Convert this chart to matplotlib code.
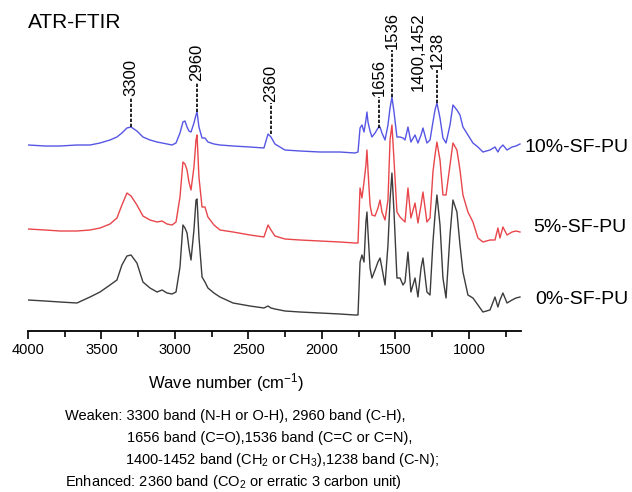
"""ATR-FTIR spectra of SF-PU films (0 %, 5 %, 10 % SF), offset stacked."""

from __future__ import annotations

import matplotlib

matplotlib.use("Agg")

import matplotlib.pyplot as plt
from matplotlib.ticker import MultipleLocator


OUTPUT_PATH = "out.png"

# Wavenumbers (cm-1) shared by the three traces.
WAVENUMBER = [
    4000, 3884, 3782, 3667, 3578, 3510, 3442, 3395, 3361, 3327,
    3299, 3259, 3218, 3170, 3122, 3088, 3054, 3020,
    2993, 2966, 2946, 2932, 2918, 2905, 2891, 2871, 2857, 2850,
    2837, 2816, 2796, 2776, 2735, 2694,
    2605, 2490, 2395, 2367, 2347, 2320, 2252, 2150, 2014, 1878,
    1776, 1755, 1741, 1728, 1714, 1701, 1694, 1687, 1673, 1660,
    1639, 1619, 1605, 1592, 1571, 1551, 1537, 1524, 1510, 1490,
    1469, 1449, 1435, 1415, 1395, 1367, 1347, 1326, 1313, 1286,
    1265, 1245, 1231, 1218, 1197, 1177, 1156, 1129, 1109, 1082,
    1061, 1041, 1007, 973,
    939, 905, 857, 823, 803, 789, 769, 741, 707, 680, 653,
]

# Stacked intensities (a.u., offsets included).
SF_10 = [
    1.86, 1.85, 1.85, 1.86, 1.86, 1.88, 1.91, 1.94, 1.98, 2.03,
    2.04, 2.00, 1.94, 1.91, 1.89, 1.88, 1.87, 1.86,
    1.88, 1.98, 2.09, 2.10, 2.04, 2.00, 1.99, 2.08, 2.16, 2.19,
    2.04, 1.93, 1.93, 1.89, 1.87, 1.86,
    1.85, 1.84, 1.83, 1.97, 1.94, 1.87, 1.81, 1.80, 1.79, 1.79,
    1.78, 1.79, 2.03, 2.06, 1.99, 2.11, 2.19, 2.09, 2.00, 1.94,
    1.98, 2.03, 2.04, 1.98, 1.91, 2.06, 2.23, 2.34, 2.19, 1.94,
    1.94, 1.93, 1.91, 2.04, 1.89, 1.96, 1.88, 1.96, 2.03, 1.88,
    1.91, 2.09, 2.21, 2.28, 2.13, 1.93, 1.88, 2.06, 2.26, 2.21,
    2.16, 2.04, 1.96, 1.88,
    1.84, 1.79, 1.81, 1.84, 1.79, 1.83, 1.86, 1.81, 1.84, 1.85, 1.87,
]
SF_5 = [
    1.02, 1.01, 1.00, 1.00, 1.01, 1.03, 1.07, 1.13, 1.26, 1.38,
    1.35, 1.26, 1.15, 1.11, 1.09, 1.10, 1.07, 1.06,
    1.09, 1.34, 1.69, 1.67, 1.61, 1.49, 1.41, 1.64, 1.91, 1.96,
    1.54, 1.24, 1.24, 1.14, 1.06, 1.01,
    0.99, 0.96, 0.94, 1.06, 1.01, 0.95, 0.92, 0.91, 0.90, 0.89,
    0.88, 0.88, 1.43, 1.33, 1.49, 1.66, 1.81, 1.61, 1.26, 1.16,
    1.15, 1.23, 1.31, 1.19, 1.11, 1.31, 1.91, 2.06, 1.71, 1.19,
    1.14, 1.11, 1.09, 1.43, 1.13, 1.28, 1.08, 1.26, 1.39, 1.09,
    1.13, 1.59, 1.76, 1.89, 1.71, 1.36, 1.36, 1.66, 1.88, 1.81,
    1.61, 1.36, 1.19, 1.09,
    0.93, 0.89, 0.91, 0.91, 1.03, 0.93, 1.04, 0.96, 0.99, 1.00, 0.99,
]
SF_0 = [
    0.31, 0.30, 0.29, 0.28, 0.34, 0.39, 0.46, 0.51, 0.66, 0.75,
    0.76, 0.68, 0.49, 0.43, 0.39, 0.41, 0.38, 0.37,
    0.39, 0.64, 1.06, 1.03, 0.98, 0.83, 0.71, 1.01, 1.31, 1.32,
    0.94, 0.54, 0.49, 0.43, 0.38, 0.34,
    0.28, 0.25, 0.23, 0.25, 0.23, 0.22, 0.20, 0.19, 0.18, 0.17,
    0.16, 0.16, 0.69, 0.76, 0.69, 1.09, 1.19, 0.99, 0.63, 0.53,
    0.61, 0.69, 0.73, 0.63, 0.46, 0.86, 1.31, 1.58, 1.19, 0.53,
    0.53, 0.46, 0.49, 0.79, 0.39, 0.53, 0.34, 0.63, 0.73, 0.39,
    0.36, 0.89, 1.16, 1.36, 1.06, 0.53, 0.33, 0.96, 1.31, 1.19,
    0.86, 0.59, 0.36, 0.33,
    0.26, 0.19, 0.21, 0.34, 0.24, 0.31, 0.38, 0.28, 0.31, 0.33, 0.34,
]

SERIES_LABELS = ["10%-SF-PU", "5%-SF-PU", "0%-SF-PU"]
SERIES_COLORS = ["#5656e4", "#e8464b", "#3c3c3c"]

X_TICKS = [4000, 3500, 3000, 2500, 2000, 1500, 1000]

# Band labels: (text, wavenumber, peak height, top of dashed leader).
BAND_LABELS = [
    ("3300", 3299, 2.04, 2.34),
    ("2960", 2850, 2.19, 2.49),
    ("2360", 2347, 1.97, 2.28),
    ("1656", 1612, 2.03, 2.34),
    ("1536", 1524, 2.34, 2.81),
    ("1400,1452", 1347, None, 2.39),
    ("1238", 1218, 2.28, 2.61),
]

NOTE_LINES = [
    ("Weaken: 3300 band (N-H or O-H), 2960 band (C-H),", 65),
    ("1656 band (C=O),1536 band (C=C or C=N),", 127),
    ("1400-1452 band (CH$_2$ or CH$_3$),1238 band (C-N);", 125),
    ("Enhanced: 2360 band (CO$_2$ or erratic 3 carbon unit)", 65),
]


def main() -> None:
    plt.rcParams["font.family"] = ["Liberation Sans", "DejaVu Sans"]
    plt.rcParams["mathtext.default"] = "regular"

    fig = plt.figure(figsize=(6.32, 4.92), dpi=100)
    ax = fig.add_axes([28 / 632, 161 / 492, 493 / 632, 326 / 492])

    for values, color in zip([SF_10, SF_5, SF_0], SERIES_COLORS):
        ax.plot(WAVENUMBER, values, color=color, lw=1.0)

    # Trace names to the right of each spectrum
    label_pos = [(619, 1.84), (564, 1.03), (551, 0.31)]
    for (x, y), label in zip(label_pos, SERIES_LABELS):
        ax.text(x, y, label, fontsize=14, va="center", ha="left", clip_on=False)

    # Dashed leaders and rotated band labels
    for text, x, y0, y1 in BAND_LABELS:
        if y0 is not None:
            ax.plot([x, x], [y0, y1], color="black", lw=1.2, ls=(0, (2, 1)))
        ax.text(x, y1 + 0.01, text, rotation=90, fontsize=12,
                ha="center", va="bottom", clip_on=False)

    ax.set_xlim(4000, 646)
    ax.set_ylim(0, 3.26)
    ax.set_xticks(X_TICKS)
    ax.xaxis.set_minor_locator(MultipleLocator(250))
    ax.tick_params(axis="x", which="major", length=6, width=1.2, labelsize=10.5, pad=3)
    ax.tick_params(axis="x", which="minor", length=4, width=1.2)
    ax.set_yticks([])
    for side in ("top", "left", "right"):
        ax.spines[side].set_visible(False)
    ax.spines["bottom"].set_linewidth(1.3)
    ax.patch.set_alpha(0)

    fig.text(28 / 632, 1 - 22 / 492, "ATR-FTIR", fontsize=15, va="center", ha="left")
    fig.text(226 / 632, 1 - 383 / 492, "Wave number (cm$^{-1}$)", fontsize=12,
             va="center", ha="center")

    for i, (line, x_px) in enumerate(NOTE_LINES):
        y_px = 416 + 22 * i
        fig.text(x_px / 632, 1 - y_px / 492, line, fontsize=10.5, va="center", ha="left")

    fig.savefig(OUTPUT_PATH, dpi=100)
    plt.close(fig)


if __name__ == "__main__":
    main()
